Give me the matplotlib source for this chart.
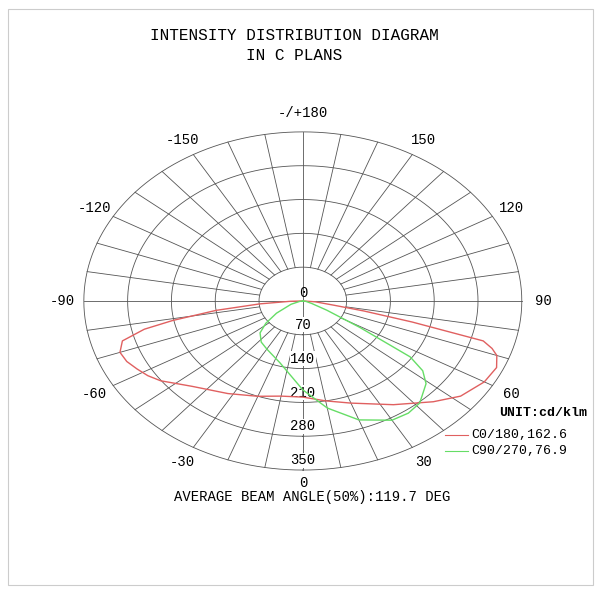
import numpy as np
import matplotlib
matplotlib.use("Agg")
import matplotlib.pyplot as plt

rings = [70, 140, 210, 280, 350]
ring_labels = ["70", "140", "210", "280", "350"]
angle_labels = [-150, -120, -90, -60, -30, 30, 60, 90, 120, 150]

red_gamma = [-90, -88, -85, -82, -79, -77, -74, -70, -66, -62, -58, -54, -45, -32, -20, -10, 0,
             10, 20, 34, 45, 52, 60, 66, 70, 72, 74, 76, 78, 80, 85, 90]
red_I = [0, 20, 69, 140, 212, 260, 300, 311, 308, 300, 292, 281, 250, 226, 210, 200, 199,
         210, 225, 259, 295, 320, 335, 339, 330, 318, 300, 180, 100, 50, 20, 0]

green_gamma = [-90, -80, -70, -59, -52, -46, -38, -30, -16, 0, 10, 20, 30, 36, 41.5, 49, 53, 56, 59, 63.5, 70, 80, 90]
green_I = [0, 5, 20, 49, 75, 95, 108, 115, 133, 184, 225, 262, 285, 287, 282, 261, 240, 207, 106, 43, 15, 5, 0]

fig = plt.figure(figsize=(6, 6), dpi=100)
ax = fig.add_axes([0, 0, 1, 1])
ax.set_xlim(-484, 475)
ax.set_ylim(-619, 623)
ax.axis("off")

def xy(g, r):
    g = np.radians(np.asarray(g, float))
    r = np.asarray(r, float)
    return r * np.sin(g), -r * np.cos(g)

gc = "#555555"
t = np.linspace(0, 360, 361)
for r in rings:
    x, y = xy(t, r)
    ax.plot(x, y, color=gc, lw=0.6)
for a in range(0, 360, 10):
    r0 = 0 if a % 90 == 0 else 70
    x, y = xy([a, a], [r0, 350])
    ax.plot(x, y, color=gc, lw=0.6)

x, y = xy(red_gamma, red_I)
ax.plot(x, y, color="#e06060", lw=1.0, zorder=3)
x, y = xy(green_gamma, green_I)
ax.plot(x, y, color="#66dd66", lw=1.0, zorder=3)

font = dict(family="Liberation Mono", fontsize=10)
ax.text(0, 3, "0", ha="center", va="bottom", **font)
for r, lab in zip(rings, ring_labels):
    ax.text(0, -r + 6, lab, ha="center", va="bottom", bbox=dict(fc="white", ec="none", pad=0.3), zorder=2, **font)
ax.text(0, -362, "0", ha="center", va="top", **font)
for a in angle_labels:
    x, y = xy(a, 385)
    ax.text(x, y, str(a), ha="center", va="center", **font)
ax.text(0, 390, "-/+180", ha="center", va="center", **font)

fig.text(0.49, 0.94, "INTENSITY DISTRIBUTION DIAGRAM", ha="center", va="center", family="Liberation Mono", fontsize=11.5)
fig.text(0.49, 0.908, "IN C PLANS", ha="center", va="center", family="Liberation Mono", fontsize=11.5)
fig.text(0.52, 0.172, "AVERAGE BEAM ANGLE(50%):119.7 DEG", ha="center", va="center", family="Liberation Mono", fontsize=10)

fig.text(0.832, 0.312, "UNIT:cd/klm", ha="left", va="center", family="Liberation Mono", fontsize=9.5, weight="bold")
fig.lines.append(plt.Line2D([0.742, 0.78], [0.275, 0.275], transform=fig.transFigure, color="#e06060", lw=0.8))
fig.text(0.785, 0.275, "C0/180,162.6", ha="left", va="center", family="Liberation Mono", fontsize=9.5)
fig.lines.append(plt.Line2D([0.742, 0.78], [0.248, 0.248], transform=fig.transFigure, color="#66dd66", lw=0.8))
fig.text(0.785, 0.248, "C90/270,76.9", ha="left", va="center", family="Liberation Mono", fontsize=9.5)

fig.patches.append(plt.Rectangle((0.013, 0.025), 0.975, 0.96, transform=fig.transFigure, fill=False, ec="#cccccc", lw=0.8))

fig.savefig("out.png", dpi=100)
